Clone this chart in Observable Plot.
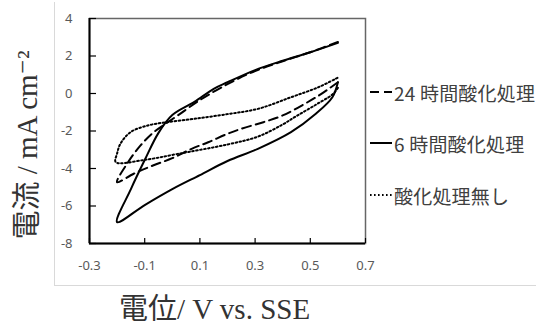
<!DOCTYPE html>
<html><head><meta charset="utf-8">
<script src="https://cdn.jsdelivr.net/npm/d3@7"></script>
<script src="https://cdn.jsdelivr.net/npm/@observablehq/plot@0.6"></script>
<style>
body{margin:0;background:#fff;}
#wrap{position:relative;width:536px;height:328px;overflow:hidden;}
#box{position:absolute;left:54px;top:2px;width:500px;height:283px;border-left:1px solid #d9d9d9;border-bottom:1px solid #d9d9d9;}
#chart{position:absolute;left:0;top:0;}
.leg{position:absolute;left:370px;height:26px;display:flex;align-items:center;font-family:"Noto Sans CJK JP",sans-serif;font-size:19px;letter-spacing:0.2px;color:#404040;white-space:nowrap;}
.leg svg{margin-right:2px;}
</style></head><body>
<div id="wrap"><div id="box"></div><div id="chart"></div></div>
<script>
// Series names (legend)
const seriesNames = ["24 時間酸化処理", "6 時間酸化処理", "酸化処理無し"];
// Axis ticks
const xTicks = [-0.3, -0.1, 0.1, 0.3, 0.5, 0.7];
const yTicks = [-8, -6, -4, -2, 0, 2, 4];
const xTitle = "電位/ V vs. SSE";
const yTitle = "電流 / mA cm⁻²";

// 24 h oxidation (dashed): lower branch right->left, then upper branch left->right
const pot24h = [0.6, 0.54, 0.48, 0.4, 0.33, 0.25, 0.2, 0.13, 0.07, 0.0, -0.07, -0.14, -0.2,
                -0.16, -0.115, -0.07, -0.025, 0.02, 0.1, 0.2, 0.3, 0.4, 0.5, 0.6];
const cur24h = [0.6, -0.02, -0.55, -1.17, -1.53, -1.88, -2.15, -2.6, -2.95, -3.45, -3.84, -4.28, -4.73,
                -3.66, -2.77, -2.1, -1.62, -1.17, -0.35, 0.5, 1.2, 1.72, 2.2, 2.75];
// 6 h oxidation (solid)
const pot6h = [0.6, 0.58, 0.52, 0.43, 0.31, 0.2, 0.1, 0.0, -0.1, -0.2,
               -0.15, -0.1, -0.05, 0.0, 0.08, 0.15, 0.2, 0.3, 0.4, 0.5, 0.6];
const cur6h = [0.6, -0.2, -1.08, -2.06, -2.95, -3.6, -4.35, -5.1, -5.95, -6.86,
               -5.1, -3.55, -2.1, -1.15, -0.45, 0.25, 0.6, 1.25, 1.75, 2.2, 2.7];
// no oxidation (dotted)
const potNone = [0.6, 0.58, 0.52, 0.45, 0.4, 0.31, 0.2, 0.02, -0.1, -0.205,
                 -0.2, -0.188, -0.151, -0.09, -0.02, 0.08, 0.2, 0.31, 0.43, 0.53, 0.6];
const curNone = [0.3, -0.05, -0.6, -1.2, -1.65, -2.3, -2.72, -3.22, -3.54, -3.66,
                 -3.2, -2.68, -2.06, -1.71, -1.53, -1.35, -1.1, -0.82, -0.2, 0.34, 0.85];

const rows = (p, c) => p.map((x, i) => ({x, y: c[i]}));
const styles = [
  {data: rows(pot24h, cur24h), dash: "9,5"},
  {data: rows(pot6h, cur6h), dash: null},
  {data: rows(potNone, curNone), dash: "1.6,2.4"}
];

const serif = "'Liberation Serif','DejaVu Serif','Noto Sans CJK JP',serif";
const chart = Plot.plot({
  width: 536, height: 328,
  marginLeft: 89, marginRight: 171, marginTop: 18, marginBottom: 85,
  x: {domain: [-0.3, 0.7]},
  y: {domain: [-8, 4]},
  style: {background: "transparent", fontFamily: "'Noto Sans',sans-serif", fontSize: "13px", color: "#595959"},
  marks: [
    Plot.frame({stroke: "#666", strokeWidth: 1.5}),
    Plot.axisX({ticks: xTicks, tickSize: 0, tickPadding: 17, tickFormat: d => d.toFixed(1), label: null}),
    Plot.axisX({ticks: xTicks, tickSize: -5, text: null, stroke: "#000", strokeWidth: 1.2, label: null}),
    Plot.axisY({ticks: yTicks, tickSize: 0, tickPadding: 17, tickFormat: d => String(d), label: null}),
    Plot.axisY({ticks: yTicks, tickSize: -7, text: null, stroke: "#000", strokeWidth: 1.2, label: null}),
    Plot.ruleX([-0.3], {stroke: "#000", strokeWidth: 2}),
    Plot.ruleY([-8], {stroke: "#000", strokeWidth: 2}),
    ...styles.map(s => Plot.line(s.data, {x: "x", y: "y", curve: "catmull-rom", stroke: "#000", strokeWidth: 2, strokeDasharray: s.dash})),
    Plot.text([yTitle], {text: d => d, frameAnchor: "left", textAnchor: "middle", lineAnchor: "middle", dx: -62, dy: 14, rotate: -90, fontSize: 29, fontFamily: serif, fill: "#333"}),
    Plot.text([xTitle], {text: d => d, frameAnchor: "bottom", textAnchor: "middle", lineAnchor: "middle", dx: -13, dy: 66, fontSize: 29, fontFamily: serif, fill: "#333"})
  ]
});
document.getElementById("chart").appendChild(chart);

// legend
const legY = [92, 143, 195];
const wrap = document.getElementById("wrap");
seriesNames.forEach((name, i) => {
  const div = document.createElement("div");
  div.className = "leg";
  div.style.top = (legY[i] - 13) + "px";
  const dash = styles[i].dash ? `stroke-dasharray="${styles[i].dash}"` : "";
  div.innerHTML = `<svg width="22" height="6"><line x1="0" x2="22" y1="3" y2="3" stroke="#000" stroke-width="2" ${dash}/></svg><span>${name}</span>`;
  wrap.appendChild(div);
});
</script>
</body></html>
